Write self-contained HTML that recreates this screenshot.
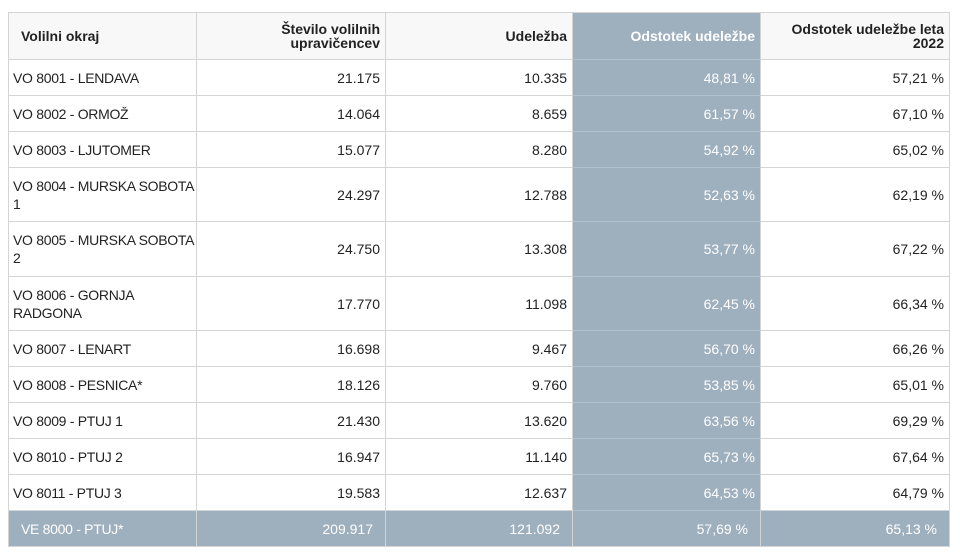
<!DOCTYPE html><html><head><meta charset="utf-8"><style>
body{margin:0;width:960px;height:560px;background:#fff;font-family:"Liberation Sans",sans-serif;font-size:14px;color:#222;position:relative;overflow:hidden}
.c{position:absolute;box-sizing:border-box;border-right:1px solid #d4d4d4;border-bottom:1px solid #d4d4d4;padding:0 5px;display:flex;align-items:center;line-height:18px;white-space:nowrap}
.r{justify-content:flex-end;text-align:right}
.h{font-weight:bold;background:#f8f8f8;font-size:14px;line-height:14px}
.g{background:#9eafbe;color:#fff;border-bottom-color:#b3c1cd}
.t{background:#9eafbe;color:#fff}
.f{letter-spacing:-0.3px;padding-left:4px}
</style></head><body>
<div id="t"></div>
<script>
var X=[8,197,386,573,761,950];
var Y=[12,60,96,132,168,222,277,331,367,403,439,475,511,547];
var H=["Volilni okraj","Število volilnih<br>upravičencev","Udeležba","Odstotek udeležbe","Odstotek udeležbe leta<br>2022"];
var D=[["VO 8001 - LENDAVA","21.175","10.335","48,81 %","57,21 %"],
["VO 8002 - ORMOŽ","14.064","8.659","61,57 %","67,10 %"],
["VO 8003 - LJUTOMER","15.077","8.280","54,92 %","65,02 %"],
["VO 8004 - MURSKA SOBOTA<br>1","24.297","12.788","52,63 %","62,19 %"],
["VO 8005 - MURSKA SOBOTA<br>2","24.750","13.308","53,77 %","67,22 %"],
["VO 8006 - GORNJA<br>RADGONA","17.770","11.098","62,45 %","66,34 %"],
["VO 8007 - LENART","16.698","9.467","56,70 %","66,26 %"],
["VO 8008 - PESNICA*","18.126","9.760","53,85 %","65,01 %"],
["VO 8009 - PTUJ 1","21.430","13.620","63,56 %","69,29 %"],
["VO 8010 - PTUJ 2","16.947","11.140","65,73 %","67,64 %"],
["VO 8011 - PTUJ 3","19.583","12.637","64,53 %","64,79 %"],
["VE 8000 - PTUJ*","209.917","121.092","57,69 %","65,13 %"]];
var rows=[H].concat(D),s="";
for(var i=0;i<rows.length;i++)for(var j=0;j<5;j++){
var cls="c"+(j>0?" r":" f")+(i==0?" h":"")+(j==3&&i<12?" g":"")+(i==12?" t":"");
var st="left:"+X[j]+"px;top:"+Y[i]+"px;width:"+(X[j+1]-X[j])+"px;height:"+(Y[i+1]-Y[i])+"px;";
if(j==0)st+="border-left:1px solid #d4d4d4;";
if(i==0)st+="border-top:1px solid #d4d4d4;";
if(i==0&&j==0)st+="padding-left:12px;letter-spacing:0;";
if(i==12)st+=j==0?"padding-left:12px;":"padding-right:12px;";
if(i==0&&j==3)st+="color:#fff;";
s+='<div class="'+cls+'" style="'+st+'">'+rows[i][j]+'</div>';}
document.getElementById("t").innerHTML=s;
</script>
</body></html>
